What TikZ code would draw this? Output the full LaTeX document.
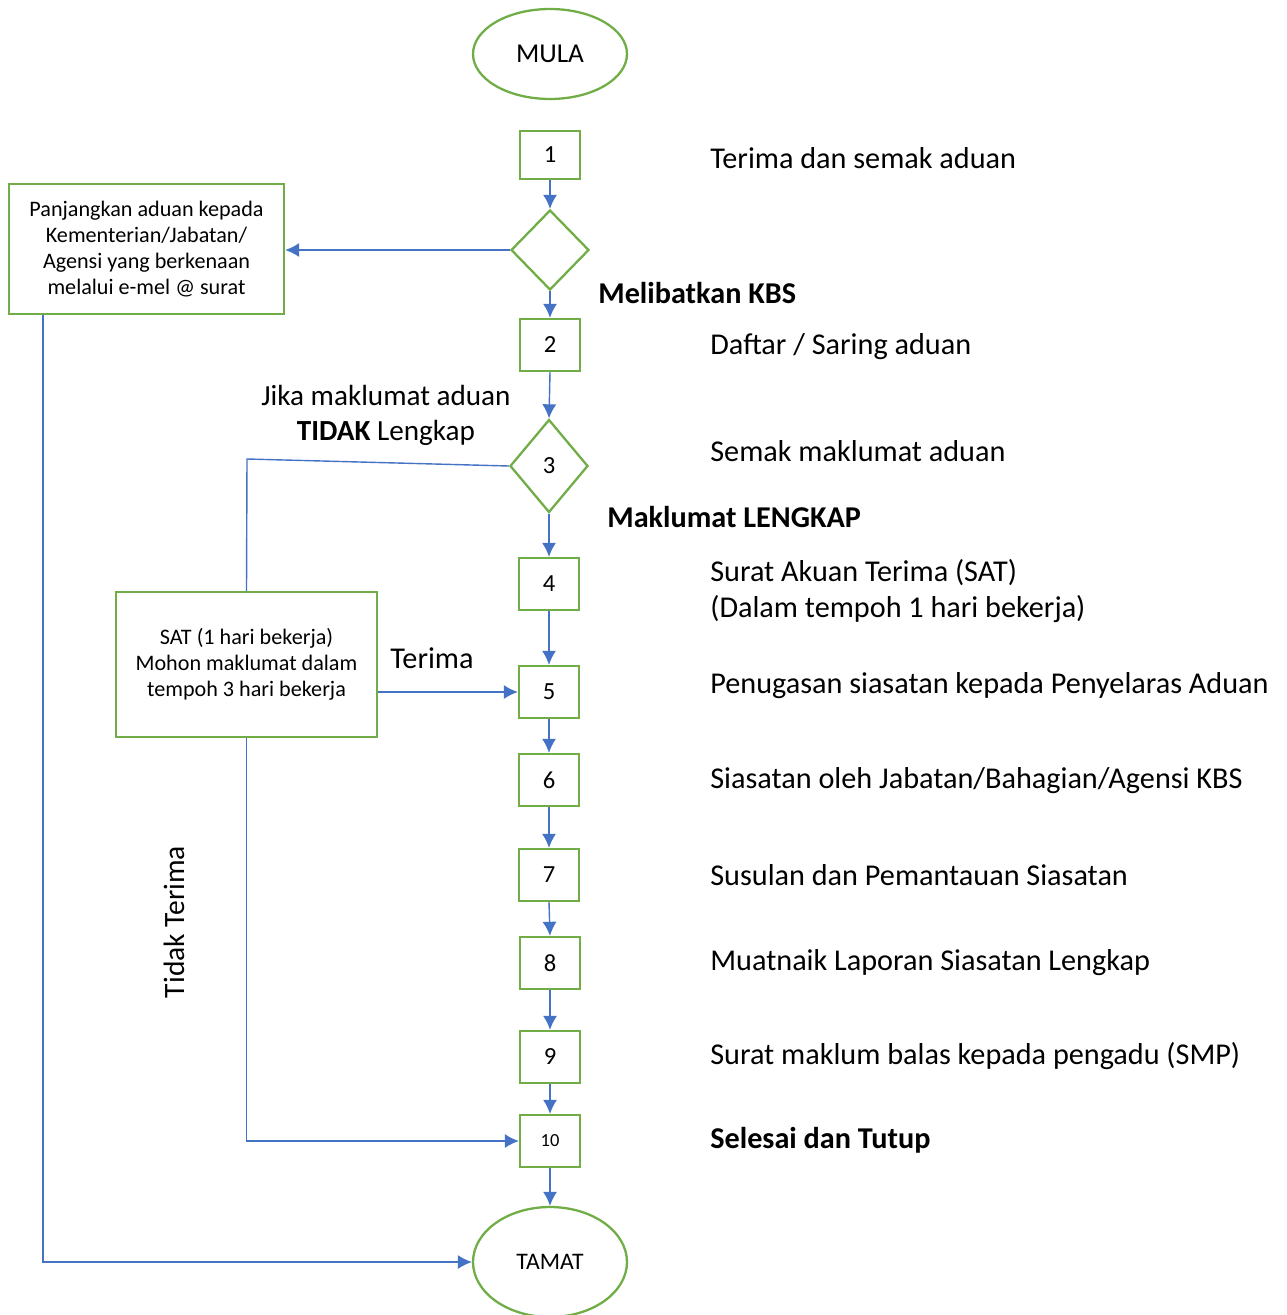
\documentclass[tikz,border=0pt]{standalone}
\usepackage{fontspec}
\setmainfont{Carlito}
\usetikzlibrary{shapes.geometric,arrows.meta}

\definecolor{boxgreen}{HTML}{70AD47}
\definecolor{flowblue}{HTML}{4472C4}

\tikzstyle{stepbox}=[draw=boxgreen, line width=1.3pt, minimum width=1.2cm, minimum height=1.04cm, inner sep=0pt, font=\fontsize{14}{16}\selectfont]
\tikzstyle{decision}=[stepbox, diamond, aspect=1, minimum width=1.56cm, minimum height=1.6cm]
\tikzstyle{terminal}=[stepbox, ellipse, minimum width=3.08cm, minimum height=1.8cm, font=\fontsize{15.5}{18}\selectfont]
\tikzstyle{infobox}=[stepbox, align=center, font=\fontsize{12.6}{14.8}\selectfont]
\tikzstyle{sidetext}=[anchor=west, inner sep=0pt, font=\fontsize{17.2}{20}\selectfont]
\tikzstyle{flow}=[draw=flowblue, line width=0.8pt]
\tikzstyle{flowarrow}=[flow, -{Latex[length=8pt,width=8pt]}]

\begin{document}
\begin{tikzpicture}[x=0.02cm, y=-0.02cm]
    \useasboundingbox (0,0) rectangle (1286,1315);

    % main column
    \node [terminal] (mula) at (550,54) {MULA};
    \node [stepbox, minimum height=0.96cm] (s1) at (550,155) {1};
    \node [decision] (d1) at (550,250) {};
    \node [stepbox] (s2) at (550,345) {2};
    \node [decision, minimum height=1.86cm] (d3) at (549,466) {3};
    \node [stepbox] (s4) at (549,584) {4};
    \node [stepbox] (s5) at (549,692) {5};
    \node [stepbox] (s6) at (549,780) {6};
    \node [stepbox] (s7) at (549,875) {7};
    \node [stepbox] (s8) at (550,963) {8};
    \node [stepbox] (s9) at (550,1057) {9};
    \node [stepbox, font=\fontsize{10.5}{12}\selectfont] (s10) at (550,1141) {10};
    \node [terminal, minimum height=2.2cm, font=\fontsize{13.5}{16}\selectfont] (tamat) at (550,1262) {TAMAT};

    % side boxes
    \node [infobox, minimum width=5.5cm, minimum height=2.6cm] (fwd) at (146.5,249)
        {Panjangkan aduan kepada\\Kementerian/Jabatan/\\Agensi yang berkenaan\\melalui e-mel @ surat};
    \node [infobox, minimum width=5.22cm, minimum height=2.9cm] (sat) at (246.5,664.5)
        {SAT (1 hari bekerja)\\Mohon maklumat dalam\\tempoh 3 hari bekerja};

    % step descriptions
    \node [sidetext] (t1) at (710,158) {Terima dan semak aduan};
    \node [sidetext] (t2) at (710,347) {Daftar / Saring aduan};
    \node [sidetext] (t3) at (710,451) {Semak maklumat aduan};
    \node [sidetext, align=left] (t4) at (710,591) {Surat Akuan Terima (SAT)\\(Dalam tempoh 1 hari bekerja)};
    \node [sidetext] (t5) at (710,686) {Penugasan siasatan kepada Penyelaras Aduan};
    \node [sidetext] (t6) at (710,781) {Siasatan oleh Jabatan/Bahagian/Agensi KBS};
    \node [sidetext] (t7) at (710,875) {Susulan dan Pemantauan Siasatan};
    \node [sidetext] (t8) at (710,963) {Muatnaik Laporan Siasatan Lengkap};
    \node [sidetext] (t9) at (710,1056) {Surat maklum balas kepada pengadu (SMP)};
    \node [sidetext, font=\fontsize{17.2}{20}\selectfont\bfseries] (t10) at (710,1140) {Selesai dan Tutup};

    % branch labels
    \node [sidetext, font=\fontsize{17.2}{20}\selectfont\bfseries] (kbs) at (598,293) {Melibatkan KBS};
    \node [sidetext, font=\fontsize{17.2}{20}\selectfont\bfseries] (lengkap) at (607,517) {Maklumat LENGKAP};
    \node [sidetext, anchor=center, align=center, font=\fontsize{16.6}{20}\selectfont] (tidak) at (386,415)
        {Jika maklumat aduan\\\textbf{TIDAK} Lengkap};
    \node [sidetext, anchor=center] (terima) at (432,658) {Terima};
    \node [sidetext, anchor=center, rotate=90, font=\fontsize{16.8}{20}\selectfont] (tdkterima) at (174,922) {Tidak Terima};

    % connectors
    \foreach \a/\b in {s1/d1, d1/s2, s2/d3, d3/s4, s4/s5, s5/s6, s6/s7, s7/s8, s8/s9, s9/s10, s10/tamat}
        \draw [flowarrow] (\a.south) -- (\b.north);
    \draw [flowarrow] (d1.west) -- (d1.west -| fwd.east);
    \coordinate (bend) at (247,459);
    \draw [flow] (d3.west) -- (bend) -- (sat.north);
    \draw [flowarrow] (sat.east |- s5.west) -- (s5.west);
    \draw [flowarrow] (sat.south) |- (s10.west);
    \draw [flowarrow] ([xshift=0.7cm]fwd.south west) |- (tamat.west);
\end{tikzpicture}
\end{document}
